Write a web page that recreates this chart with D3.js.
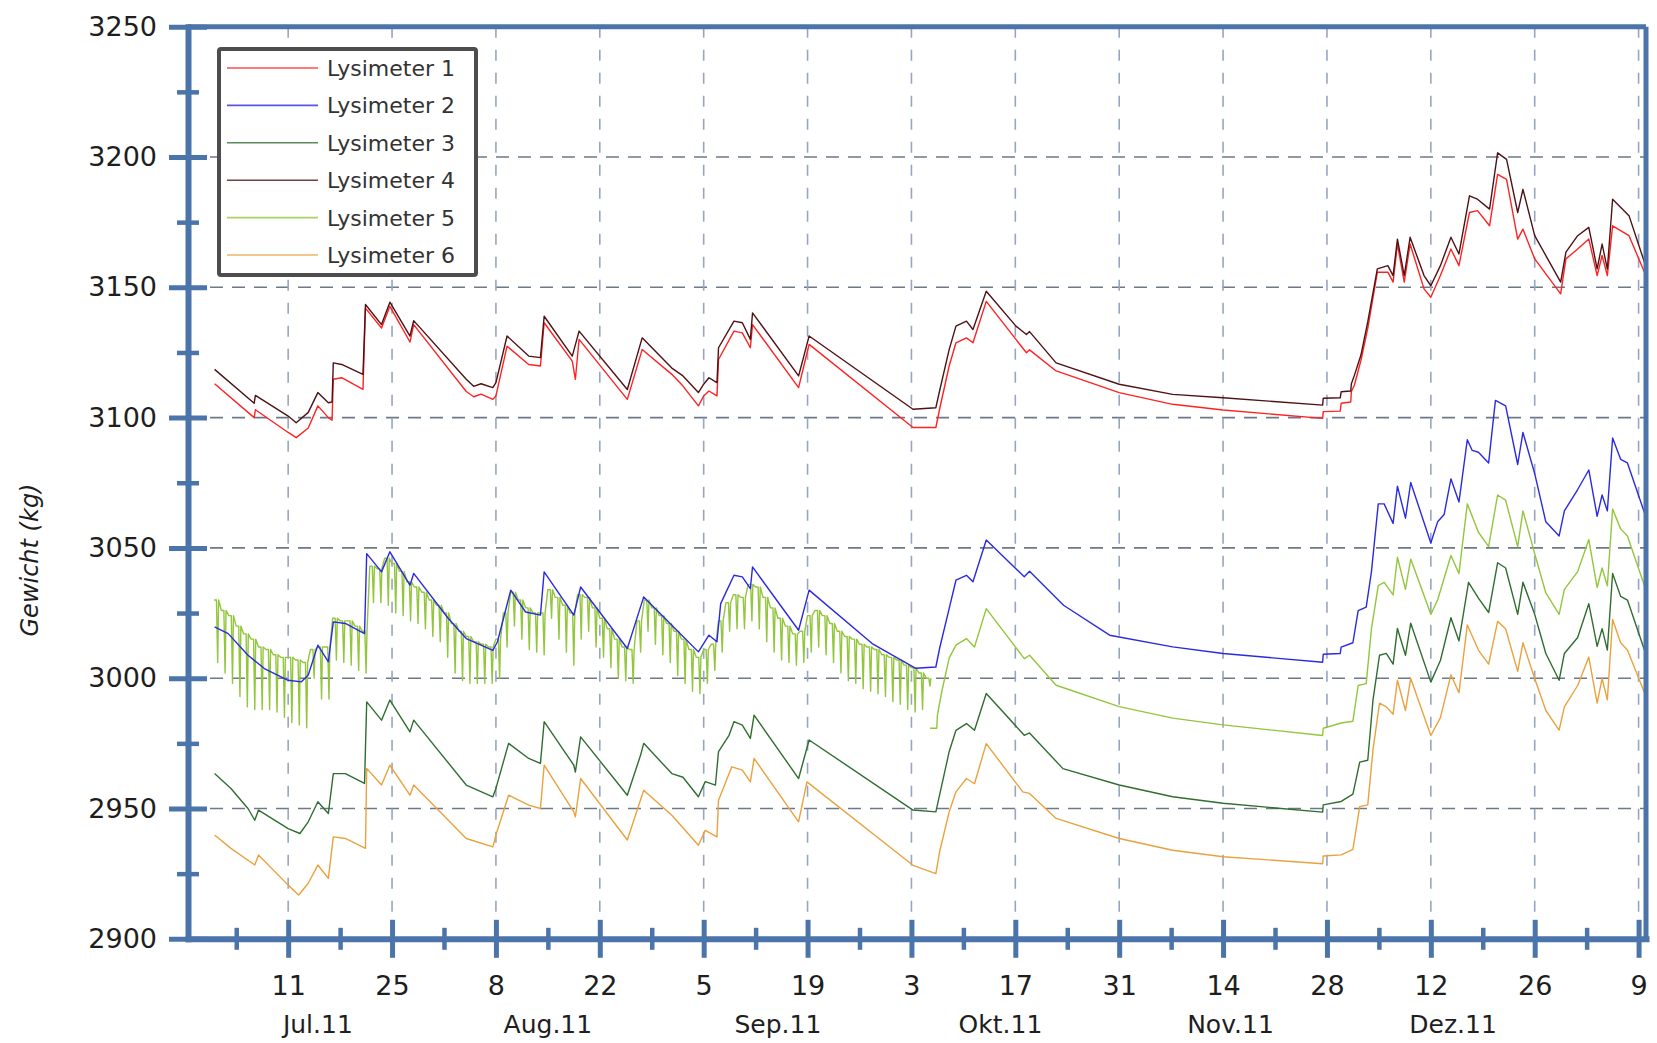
<!DOCTYPE html>
<html>
<head>
<meta charset="utf-8">
<script src="https://cdn.jsdelivr.net/npm/d3@7"></script>
<style>
  html, body { margin: 0; padding: 0; background: #fff; }
  svg { display: block; font-family: "DejaVu Sans", sans-serif; }
</style>
</head>
<body>
<svg id="chart" width="1657" height="1043"></svg>
<script>
// ---------------- data ----------------
// Dates are written "MM-DD.f" (fraction of a day); Jan belongs to 2012, the rest to 2011.
const seriesNames = ["Lysimeter 1", "Lysimeter 2", "Lysimeter 3", "Lysimeter 4", "Lysimeter 5", "Lysimeter 6"];
const seriesColors = ["#ff2222", "#2a2ae0", "#2f6e30", "#4e1216", "#93c63c", "#eaa23e"];

const lys1 = [["07-01.1",3113],["07-06.4",3100],["07-06.6",3103],["07-11.0",3094.3],["07-12.1",3092.3],["07-13.7",3096],["07-15.0",3104.5],["07-16.4",3100],["07-16.9",3099],["07-17.1",3114.7],["07-18.2",3115.3],["07-21.1",3110.8],["07-21.4",3142],["07-23.6",3134.4],["07-24.7",3142.7],["07-27.4",3129],["07-27.9",3135.7],["08-04.0",3110],["08-05.0",3108],["08-06.0",3109],["08-07.6",3107],["08-08.0",3108.3],["08-09.5",3127.4],["08-12.4",3120.4],["08-14.0",3119.8],["08-14.5",3136.4],["08-18.3",3121.7],["08-18.7",3114.7],["08-19.2",3130],["08-25.7",3107],["08-27.7",3126.1],["08-31.7",3116.6],["09-02.2",3112.1],["09-04.3",3104.5],["09-05.0",3108.3],["09-05.7",3110.2],["09-06.8",3108.3],["09-07.0",3122.3],["09-09.1",3133.2],["09-10.2",3132.5],["09-11.3",3126.8],["09-11.6",3135.7],["09-17.8",3111.5],["09-18.5",3119.8],["09-19.2",3128.1],["10-03.2",3096.2],["10-06.3",3096.2],["10-06.8",3103.2],["10-08.1",3119.8],["10-09.0",3128.7],["10-10.4",3130.6],["10-11.3",3128.7],["10-13.1",3144.6],["10-17.1",3130],["10-18.5",3124.9],["10-18.9",3126],["10-22.5",3117.9],["10-31.0",3109.6],["11-07.2",3105.1],["11-14.0",3102.9],["11-27.4",3099.7],["11-27.5",3102.3],["11-29.8",3102.5],["11-29.9",3105.5],["12-01.2",3106],["12-01.3",3110],["12-01.7",3112.5],["12-02.6",3122],["12-03.5",3134.2],["12-04.8",3155.8],["12-06.2",3155.8],["12-06.9",3152],["12-07.5",3166.6],["12-08.4",3152],["12-09.2",3166.6],["12-11.1",3149.4],["12-12.0",3146.2],["12-13.3",3154.5],["12-14.7",3164.7],["12-15.8",3158.3],["12-17.2",3178.7],["12-18.3",3179.4],["12-19.9",3173.6],["12-21.0",3193.3],["12-22.2",3191.4],["12-23.7",3168.5],["12-24.4",3172.3],["12-26.0",3160.9],["12-29.5",3147.5],["12-30.2",3160.9],["12-31.8",3164.7],["01-02.3",3168.5],["01-03.4",3154.5],["01-04.1",3162.2],["01-04.8",3154.5],["01-05.5",3173.6],["01-07.7",3169.8],["01-09.8",3155.8]];

const lys2 = [["07-01.1",3019.7],["07-02.9",3017.1],["07-05.6",3008.8],["07-07.8",3003.7],["07-11.0",2999.2],["07-12.8",2998.6],["07-13.7",3001.2],["07-15.0",3012.7],["07-16.4",3006.3],["07-17.1",3021.6],["07-18.7",3021],["07-21.3",3017.1],["07-21.6",3047.8],["07-23.6",3040.8],["07-24.7",3048.5],["07-27.4",3035.7],["07-27.9",3040.2],["08-01.6",3022.9],["08-04.0",3015.2],["08-07.6",3010.7],["08-08.2",3014],["08-10.0",3033.8],["08-12.0",3025.4],["08-14.0",3024.2],["08-14.5",3040.8],["08-18.5",3024.2],["08-19.4",3035],["08-25.7",3011.4],["08-27.9",3031.2],["08-31.7",3020.3],["09-04.3",3010.1],["09-05.7",3016.5],["09-06.8",3014],["09-07.3",3028.6],["09-09.1",3039.5],["09-10.2",3038.9],["09-11.3",3034.4],["09-11.6",3042.7],["09-17.8",3018.4],["09-19.2",3033.8],["09-27.7",3013.3],["10-03.6",3003.8],["10-06.3",3004.3],["10-06.8",3011.4],["10-08.1",3026.7],["10-09.0",3037.6],["10-10.4",3039.5],["10-11.3",3037],["10-13.1",3053],["10-18.2",3038.9],["10-18.9",3041],["10-23.5",3028],["10-29.7",3016.5],["11-07.2",3012],["11-14.0",3009.5],["11-27.4",3006.1],["11-27.5",3009.2],["11-29.8",3009.5],["11-29.9",3011.9],["12-01.5",3013.6],["12-02.2",3025.9],["12-03.3",3027.3],["12-04.0",3040.9],["12-04.9",3066.9],["12-05.7",3066.9],["12-06.9",3059.4],["12-07.5",3073.7],["12-08.6",3061.4],["12-09.3",3075.1],["12-12.0",3051.9],["12-12.9",3060],["12-13.8",3062.8],["12-14.7",3076.5],["12-15.8",3067.6],["12-16.9",3091.5],["12-17.6",3087.4],["12-18.4",3086.7],["12-19.8",3082.6],["12-20.7",3106.6],["12-22.1",3104.5],["12-23.7",3082],["12-24.4",3094.3],["12-26.0",3078.5],["12-27.5",3060],["12-29.3",3054.6],["12-30.0",3064.2],["12-31.8",3072.4],["01-02.3",3079.9],["01-03.4",3062.1],["01-04.1",3070.3],["01-04.8",3064.2],["01-05.5",3092.2],["01-06.6",3084],["01-07.5",3082.6],["01-09.8",3063.5]];

const lys3 = [["07-01.1",2963.4],["07-03.3",2957.7],["07-05.6",2950],["07-06.5",2945.5],["07-07.0",2949.4],["07-11.0",2942.3],["07-12.6",2940.4],["07-13.7",2944.9],["07-15.0",2952.6],["07-16.4",2948.1],["07-17.1",2963.4],["07-18.7",2963.4],["07-21.3",2959.6],["07-21.6",2990.9],["07-23.6",2983.9],["07-24.7",2991.6],["07-27.4",2979.4],["07-27.9",2983.9],["08-04.0",2959],["08-07.6",2954.5],["08-08.0",2957.7],["08-09.7",2975],["08-12.4",2969.2],["08-14.0",2967.3],["08-14.5",2983.3],["08-18.5",2966.6],["08-18.7",2964],["08-19.4",2977.5],["08-25.7",2955.1],["08-27.5",2970.5],["08-27.9",2975],["08-31.7",2963.4],["09-02.2",2962],["09-04.3",2954.5],["09-05.2",2960.3],["09-06.6",2959],["09-07.0",2971.8],["09-08.4",2978.1],["09-09.1",2983.3],["09-10.2",2982],["09-11.3",2976.9],["09-11.8",2985.8],["09-17.8",2961.5],["09-19.2",2976.3],["10-03.2",2949.4],["10-06.3",2948.7],["10-06.8",2955.1],["10-08.1",2971.8],["10-09.0",2980],["10-10.4",2982.6],["10-11.5",2980],["10-13.1",2994.1],["10-18.2",2978.1],["10-18.9",2979],["10-23.4",2965.3],["10-31.0",2959],["11-07.2",2954.5],["11-14.0",2952],["11-27.4",2948.6],["11-27.5",2951.4],["11-29.9",2952.7],["12-01.5",2955.5],["12-02.4",2967.8],["12-03.5",2968.5],["12-04.2",2991.7],["12-05.1",3008.8],["12-06.0",3009.5],["12-06.9",3005.4],["12-07.5",3019.1],["12-08.6",3008.8],["12-09.3",3021.1],["12-12.0",2998.5],["12-13.3",3006.8],["12-14.7",3023.2],["12-15.8",3014.3],["12-17.1",3036.8],["12-18.4",3030.7],["12-19.8",3025.2],["12-21.0",3044.3],["12-22.1",3042.3],["12-23.7",3024.5],["12-24.4",3036.8],["12-26.0",3024.5],["12-27.5",3009.5],["12-29.3",2999.2],["12-30.0",3009.5],["12-31.8",3015.6],["01-02.3",3028.6],["01-03.4",3012.2],["01-04.1",3019],["01-04.8",3010.8],["01-05.5",3040.2],["01-06.6",3031.4],["01-07.5",3030],["01-09.8",3010.8]];

const lys4 = [["07-01.1",3118.5],["07-06.4",3105.5],["07-06.6",3108.5],["07-11.0",3100.6],["07-12.1",3098],["07-13.7",3102],["07-15.0",3109.6],["07-16.4",3105.7],["07-16.9",3106],["07-17.1",3121],["07-18.2",3120.4],["07-21.1",3116.6],["07-21.4",3143.4],["07-23.6",3135.7],["07-24.7",3144.3],["07-27.4",3131.3],["07-27.9",3137.2],["08-04.0",3114.7],["08-05.0",3112],["08-06.0",3113],["08-07.6",3111.5],["08-08.0",3113.4],["08-09.5",3131.3],["08-12.4",3123.6],["08-14.0",3123],["08-14.5",3138.9],["08-18.3",3123.6],["08-19.2",3133.2],["08-25.7",3110.8],["08-27.7",3130.6],["08-31.7",3119],["09-02.2",3116],["09-04.3",3109.6],["09-05.0",3112.8],["09-05.7",3115.3],["09-06.8",3113.4],["09-07.0",3126.8],["09-09.1",3137],["09-10.2",3136.4],["09-11.3",3130],["09-11.6",3140.2],["09-17.8",3116],["09-18.5",3123.6],["09-19.2",3131.3],["10-03.2",3103.2],["10-06.3",3103.8],["10-06.8",3110.2],["10-08.1",3126.1],["10-09.0",3135.1],["10-10.4",3137],["10-11.3",3133.8],["10-13.1",3148.5],["10-17.1",3135.1],["10-18.5",3131.9],["10-18.9",3133],["10-22.5",3121],["10-31.0",3112.8],["11-07.2",3108.9],["11-14.0",3107.6],["11-27.4",3104.8],["11-27.5",3107.4],["11-29.8",3107.6],["11-29.9",3109.9],["12-01.2",3110.2],["12-01.3",3113],["12-01.7",3116.3],["12-02.6",3124],["12-03.5",3136.7],["12-04.8",3157.1],["12-06.2",3158.3],["12-06.9",3154.5],["12-07.5",3168.5],["12-08.4",3154.5],["12-09.2",3169.2],["12-11.1",3154.5],["12-12.0",3150.6],["12-13.3",3158.3],["12-14.7",3169.2],["12-15.8",3162.8],["12-17.2",3185.1],["12-18.3",3183.8],["12-19.9",3180],["12-21.0",3201.6],["12-22.2",3199.1],["12-23.7",3178.7],["12-24.4",3187.6],["12-26.0",3169.8],["12-29.5",3152],["12-30.2",3163.5],["12-31.8",3169.8],["01-02.3",3173],["01-03.4",3157.1],["01-04.1",3166.6],["01-04.8",3157],["01-05.5",3183.8],["01-07.7",3177.5],["01-09.8",3159.6]];

// Lysimeter 5, summer: one [date, daily high, daily low] record per day
const lys5Daily = [
  ["07-01",3030,3006],["07-02",3026,3002],["07-03",3024,2998],["07-04",3020,2993],["07-05",3017,2989],["07-06",3015,2988],["07-07",3012,2988],["07-08",3011,2988],["07-09",3009,2987],["07-10",3008,2985],["07-11",3008,2983],["07-12",3007,2982],["07-13",3006,2981],["07-14",3011,3000],["07-15",3012,2992],["07-16",3012,2992],["07-17",3023,3007],["07-18",3022,3006],["07-19",3022,3005],["07-20",3020,3003],["07-21",3018,3002],["07-22",3043,3029],["07-23",3042,3029],["07-24",3046,3028],["07-25",3044,3025],["07-26",3041,3024],["07-27",3037,3022],["07-28",3035,3021],["07-29",3033,3019],["07-30",3030,3016],["07-31",3028,3014],
  ["08-01",3025,3008],["08-02",3021,3002],["08-03",3018,2999],["08-04",3016,2998],["08-05",3014,2998],["08-06",3013,2998],["08-07",3012,2998],["08-08",3015,3000],["08-09",3025,3012],["08-10",3033,3020],["08-11",3030,3015],["08-12",3027,3011],["08-13",3025,3010],["08-14",3025,3009],["08-15",3034,3023],["08-16",3031,3015],["08-17",3028,3010],["08-18",3025,3005],["08-19",3032,3015],["08-20",3031,3018],["08-21",3027,3012],["08-22",3023,3008],["08-23",3019,3004],["08-24",3015,3000],["08-25",3012,2999],["08-26",3011,2998],["08-27",3022,3010],["08-28",3030,3018],["08-29",3027,3013],["08-30",3024,3009],["08-31",3021,3006],
  ["09-01",3018,3001],["09-02",3015,2998],["09-03",3011,2995],["09-04",3008,2994],["09-05",3011,2998],["09-06",3013,3003],["09-07",3022,3010],["09-08",3029,3018],["09-09",3032,3019],["09-10",3031,3019],["09-11",3036,3022],["09-12",3035,3019],["09-13",3031,3014],["09-14",3027,3010],["09-15",3023,3007],["09-16",3020,3006],["09-17",3017,3005],["09-18",3018,3006],["09-19",3024,3010],["09-20",3026,3012],["09-21",3024,3009],["09-22",3021,3006],["09-23",3018,3002],["09-24",3016,2999],["09-25",3015,2998],["09-26",3013,2996],["09-27",3012,2995],["09-28",3011,2994],["09-29",3009,2993],["09-30",3008,2991],
  ["10-01",3007,2990],["10-02",3005,2988],["10-03",3004,2987],["10-04",3002,2988],["10-05",3000,2997]
];
// Lysimeter 5 from October on
const lys5 = [["10-05.5",2980.8],["10-06.4",2980.8],["10-06.5",2985.8],["10-07.1",2994.8],["10-08.1",3007.7],["10-09.0",3012.7],["10-10.4",3015.2],["10-11.5",3012],["10-13.1",3026.7],["10-18.2",3007.5],["10-18.9",3008.8],["10-22.5",2997.3],["10-31.0",2989.1],["11-07.2",2984.7],["11-14.0",2982.1],["11-27.4",2978],["11-27.5",2980.8],["11-29.9",2982.8],["12-01.5",2983.5],["12-02.2",2997.2],["12-03.3",2997.9],["12-04.0",3019],["12-04.9",3035.5],["12-05.7",3036.8],["12-06.9",3032],["12-07.5",3046.4],["12-08.6",3034.1],["12-09.3",3045.7],["12-12.0",3024.5],["12-12.9",3030],["12-14.7",3047.1],["12-15.8",3040.2],["12-16.9",3066.9],["12-18.4",3056],["12-19.8",3050.5],["12-21.0",3070.3],["12-22.1",3068.3],["12-23.7",3050.5],["12-24.4",3064.2],["12-26.0",3047.8],["12-27.5",3032.7],["12-29.3",3024.5],["12-30.0",3034.1],["12-31.8",3040.9],["01-02.3",3053.2],["01-03.4",3034.8],["01-04.1",3042.3],["01-04.8",3035.5],["01-05.5",3064.9],["01-06.6",3057.3],["01-07.5",3054.6],["01-09.8",3035.5]];

const lys6 = [["07-01.1",2939.8],["07-03.3",2934.7],["07-06.5",2928.3],["07-07.0",2932.2],["07-11.0",2920.6],["07-12.4",2916.8],["07-13.7",2921.3],["07-15.0",2928.3],["07-16.4",2923.2],["07-17.1",2939.1],["07-18.7",2938.5],["07-21.4",2934.7],["07-21.6",2965.4],["07-23.6",2959],["07-24.7",2966.6],["07-27.4",2955.1],["07-27.9",2959],["08-04.0",2938.5],["08-07.6",2935.3],["08-08.0",2939.8],["08-09.7",2955.1],["08-12.4",2951.3],["08-14.0",2950],["08-14.5",2966.6],["08-18.5",2948.7],["08-18.7",2946.8],["08-19.4",2961.5],["08-25.7",2937.9],["08-27.9",2957],["08-31.7",2947.4],["09-04.3",2935.9],["09-05.2",2941.6],["09-06.8",2939.1],["09-07.0",2953.2],["09-08.8",2966],["09-10.2",2964.7],["09-11.3",2960.2],["09-11.8",2969.2],["09-17.8",2944.9],["09-18.9",2960.2],["10-03.2",2928.2],["10-06.3",2925],["10-06.8",2933.3],["10-08.1",2948.7],["10-09.0",2956.4],["10-10.4",2961.5],["10-11.5",2959.5],["10-13.1",2974.9],["10-18.0",2956.4],["10-18.9",2955.8],["10-22.5",2946.2],["10-31.0",2938.5],["11-07.2",2934],["11-14.0",2931.5],["11-27.4",2928.8],["11-27.5",2931.8],["11-29.9",2932.2],["12-01.5",2934.3],["12-02.4",2950.7],["12-03.5",2951.4],["12-04.2",2972.6],["12-05.1",2990.4],["12-06.0",2989],["12-06.9",2986.2],["12-07.5",2999.2],["12-08.6",2987.6],["12-09.3",2999.9],["12-12.0",2978],["12-13.3",2984.9],["12-14.7",3001.3],["12-15.8",2994.4],["12-16.9",3020.4],["12-18.4",3010.8],["12-19.8",3005.4],["12-21.0",3021.8],["12-22.1",3019],["12-23.7",3002.6],["12-24.4",3013.6],["12-26.0",2999.9],["12-27.5",2987.6],["12-29.3",2980.1],["12-30.0",2989],["12-31.8",2997.2],["01-02.3",3008.1],["01-03.4",2990.4],["01-04.1",2999.9],["01-04.8",2991.7],["01-05.5",3022.5],["01-06.6",3013.6],["01-07.5",3010.8],["01-09.8",2994.4]];

const yMajorTicks = [2900, 2950, 3000, 3050, 3100, 3150, 3200, 3250];
const yMinorTicks = [2925, 2975, 3025, 3075, 3125, 3175, 3225];
const yGridLines = [2950, 3000, 3050, 3100, 3150, 3200];
const xMajorTicks = ["07-11","07-25","08-08","08-22","09-05","09-19","10-03","10-17","10-31","11-14","11-28","12-12","12-26","01-09"];
const xMinorTicks = ["07-04","07-18","08-01","08-15","08-29","09-12","09-26","10-10","10-24","11-07","11-21","12-05","12-19","01-02"];
const monthLabels = [["07-15","Jul.11"],["08-15","Aug.11"],["09-15","Sep.11"],["10-15","Okt.11"],["11-15","Nov.11"],["12-15","Dez.11"]];
const yTitle = "Gewicht (kg)";

// ---------------- helpers ----------------
function toDate(s) {
  const [m, rest] = s.split("-");
  const month = +m, dayF = +rest;
  const day = Math.floor(dayF);
  const hours = Math.round((dayF - day) * 24);
  return new Date(month >= 6 ? 2011 : 2012, month - 1, day, hours);
}
const toPoints = arr => arr.map(([d, v]) => ({ date: toDate(d), value: v }));

// summer record of Lysimeter 5: high most of the day with a short midday dip
function dailyToPoints(arr) {
  const pts = [];
  arr.forEach(([d, hi, lo]) => {
    const base = toDate(d);
    pts.push({ date: d3.timeHour.offset(base, 0), value: hi });
    pts.push({ date: d3.timeHour.offset(base, 8), value: hi });
    pts.push({ date: d3.timeHour.offset(base, 12), value: lo });
    pts.push({ date: d3.timeHour.offset(base, 15), value: hi });
  });
  return pts;
}

// ---------------- layout ----------------
const svg = d3.select("#chart");
const plotL = 188, plotR = 1646, plotT = 26.7, plotB = 938.8;
const axisColor = "#4b74aa";
const textColor = "#1e1e1e";

const x = d3.scaleTime()
  .domain([new Date(2011, 5, 27, 12), new Date(2012, 0, 10)])
  .range([plotL, plotR]);
const y = d3.scaleLinear().domain([2900, 3250]).range([plotB, plotT]);

svg.append("defs").append("clipPath").attr("id", "plot-clip")
  .append("rect").attr("x", plotL).attr("y", plotT).attr("width", plotR - plotL).attr("height", plotB - plotT);

// grid
const grid = svg.append("g");
grid.selectAll("line.h").data(yGridLines).join("line")
  .attr("x1", plotL).attr("x2", plotR)
  .attr("y1", d => y(d)).attr("y2", d => y(d))
  .attr("stroke", "#6d7888").attr("stroke-width", 1.6)
  .attr("stroke-dasharray", "13,9");
grid.selectAll("line.v").data(xMajorTicks.map(toDate)).join("line")
  .attr("x1", d => x(d)).attr("x2", d => x(d))
  .attr("y1", plotT).attr("y2", plotB)
  .attr("stroke", "#97a6c0").attr("stroke-width", 1.6)
  .attr("stroke-dasharray", "11,12");

// series
const line = d3.line().x(d => x(d.date)).y(d => y(d.value));
const plot = svg.append("g").attr("clip-path", "url(#plot-clip)");
const drawOrder = [
  { pts: dailyToPoints(lys5Daily), c: 4 },
  { pts: toPoints(lys5), c: 4 },
  { pts: toPoints(lys6), c: 5 },
  { pts: toPoints(lys3), c: 2 },
  { pts: toPoints(lys2), c: 1 },
  { pts: toPoints(lys1), c: 0 },
  { pts: toPoints(lys4), c: 3 }
];
drawOrder.forEach(s => {
  plot.append("path")
    .datum(s.pts)
    .attr("d", line)
    .attr("fill", "none")
    .attr("stroke", seriesColors[s.c])
    .attr("stroke-width", 1.4)
    .attr("stroke-linejoin", "round");
});

// frame: top and right borders
svg.append("line").attr("x1", plotL).attr("x2", plotR).attr("y1", plotT).attr("y2", plotT)
  .attr("stroke", axisColor).attr("stroke-width", 5);
svg.append("line").attr("x1", plotR).attr("x2", plotR).attr("y1", plotT).attr("y2", plotB)
  .attr("stroke", axisColor).attr("stroke-width", 5);

// y axis
const yAxisG = svg.append("g").attr("transform", `translate(${plotL},0)`)
  .call(d3.axisLeft(y).tickValues(yMajorTicks).tickSizeInner(19).tickSizeOuter(0)
    .tickPadding(12).tickFormat(d3.format("d")));
yAxisG.select(".domain").attr("stroke", axisColor).attr("stroke-width", 6).attr("stroke-linecap", "square");
yAxisG.selectAll(".tick line").attr("x1", 19).attr("stroke", axisColor).attr("stroke-width", 5);
yAxisG.selectAll(".tick text").attr("font-size", 27).attr("fill", textColor)
  .attr("font-family", "DejaVu Sans, sans-serif");

const yMinorG = svg.append("g").attr("transform", `translate(${plotL},0)`)
  .call(d3.axisLeft(y).tickValues(yMinorTicks).tickSize(11).tickFormat(""));
yMinorG.select(".domain").remove();
yMinorG.selectAll(".tick line").attr("x1", 11).attr("stroke", axisColor).attr("stroke-width", 4.5);

// x axis
const xAxisG = svg.append("g").attr("transform", `translate(0,${plotB})`)
  .call(d3.axisBottom(x).tickValues(xMajorTicks.map(toDate)).tickSizeInner(19).tickSizeOuter(0)
    .tickPadding(18).tickFormat(d3.timeFormat("%-d")));
xAxisG.select(".domain").attr("stroke", axisColor).attr("stroke-width", 6).attr("stroke-linecap", "square");
xAxisG.selectAll(".tick line").attr("y1", -19).attr("stroke", axisColor).attr("stroke-width", 5);
xAxisG.selectAll(".tick text").attr("font-size", 27).attr("fill", textColor)
  .attr("font-family", "DejaVu Sans, sans-serif");

const xMinorG = svg.append("g").attr("transform", `translate(0,${plotB})`)
  .call(d3.axisBottom(x).tickValues(xMinorTicks.map(toDate)).tickSize(11).tickFormat(""));
xMinorG.select(".domain").remove();
xMinorG.selectAll(".tick line").attr("y1", -11).attr("stroke", axisColor).attr("stroke-width", 4.5);

// month labels
svg.append("g").selectAll("text").data(monthLabels).join("text")
  .attr("x", d => x(toDate(d[0])))
  .attr("y", 1033)
  .attr("text-anchor", "middle")
  .attr("font-size", 25)
  .attr("fill", textColor)
  .text(d => d[1]);

// y title
svg.append("text")
  .attr("transform", "translate(38,560) rotate(-90)")
  .attr("text-anchor", "middle")
  .attr("font-size", 24)
  .attr("font-style", "italic")
  .attr("fill", textColor)
  .text(yTitle);

// legend
const legend = svg.append("g").attr("transform", "translate(219,49)");
legend.append("rect").attr("width", 257).attr("height", 226)
  .attr("fill", "#fff").attr("stroke", "#4d4d4d").attr("stroke-width", 4).attr("rx", 2);
const rows = legend.selectAll("g.row").data(seriesNames).join("g")
  .attr("transform", (d, i) => `translate(0,${19 + i * 37.4})`);
rows.append("line").attr("x1", 8).attr("x2", 99).attr("y1", 0).attr("y2", 0)
  .attr("stroke", (d, i) => seriesColors[i]).attr("stroke-width", 1.6).attr("stroke-opacity", 0.8);
rows.append("text").attr("x", 108).attr("y", 8)
  .attr("font-size", 22).attr("fill", "#333").text(d => d);
</script>
</body>
</html>
